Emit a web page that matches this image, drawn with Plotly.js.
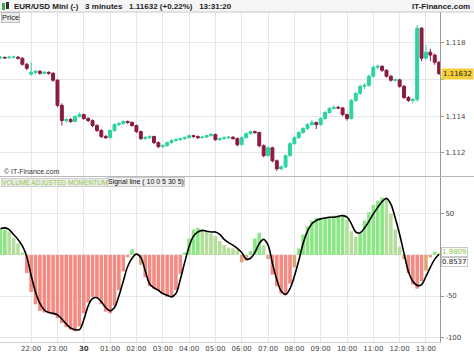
<!DOCTYPE html>
<html><head><meta charset="utf-8">
<script src="https://cdn.plot.ly/plotly-3.0.1.min.js"></script>
<style>html,body{margin:0;padding:0;background:#fff;overflow:hidden}#chart{width:474px;height:355px}</style>
</head><body><div id="chart"></div>
<script>
// ---- data (10-minute bars from 20:50 to 13:30) ----
const startYear = 2019, startMonth = 6, startDay = 29, startHour = 20, startMinute = 50;
const stepMinutes = 10;

const openP = [1.11718,1.11720,1.11718,1.11722,1.11722,1.11716,1.11683,1.11628,1.11639,1.11645,
1.11634,1.11639,1.11634,1.11596,1.11459,1.11376,1.11382,1.11371,1.11398,1.11409,
1.11387,1.11376,1.11349,1.11322,1.11289,1.11283,1.11322,1.11354,1.11360,1.11371,
1.11366,1.11349,1.11316,1.11278,1.11283,1.11289,1.11256,1.11234,1.11239,1.11256,
1.11267,1.11272,1.11278,1.11283,1.11294,1.11289,1.11283,1.11286,1.11294,1.11300,
1.11272,1.11278,1.11283,1.11286,1.11278,1.11245,1.11283,1.11305,1.11316,1.11311,
1.11239,1.11185,1.11228,1.11157,1.11113,1.11124,1.11185,1.11250,1.11283,1.11311,
1.11333,1.11354,1.11365,1.11354,1.11387,1.11420,1.11442,1.11448,1.11445,1.11409,
1.11387,1.11486,1.11524,1.11563,1.11568,1.11618,1.11667,1.11672,1.11650,1.11618,
1.11596,1.11598,1.11563,1.11502,1.11486,1.11490,1.11880,1.11716,1.11749,1.11733,
1.11694];
const highP = [1.11728,1.11726,1.11730,1.11729,1.11727,1.11720,1.11690,1.11694,1.11652,1.11650,
1.11646,1.11644,1.11640,1.11602,1.11470,1.11392,1.11390,1.11405,1.11420,1.11414,
1.11395,1.11382,1.11356,1.11330,1.11298,1.11330,1.11362,1.11368,1.11378,1.11376,
1.11372,1.11354,1.11322,1.11292,1.11296,1.11294,1.11262,1.11248,1.11262,1.11274,
1.11280,1.11284,1.11290,1.11300,1.11299,1.11295,1.11292,1.11300,1.11308,1.11305,
1.11284,1.11290,1.11292,1.11290,1.11284,1.11290,1.11312,1.11322,1.11322,1.11316,
1.11246,1.11236,1.11234,1.11164,1.11132,1.11192,1.11258,1.11290,1.11318,1.11340,
1.11362,1.11380,1.11372,1.11395,1.11428,1.11450,1.11460,1.11456,1.11450,1.11414,
1.11494,1.11532,1.11572,1.11580,1.11626,1.11676,1.11682,1.11678,1.11656,1.11624,
1.11606,1.11604,1.11570,1.11510,1.11500,1.11897,1.11885,1.11790,1.11768,1.11742,
1.11700];
const lowP = [1.11712,1.11712,1.11714,1.11715,1.11708,1.11676,1.11652,1.11622,1.11628,1.11626,
1.11628,1.11626,1.11588,1.11450,1.11349,1.11364,1.11362,1.11366,1.11392,1.11380,
1.11368,1.11340,1.11314,1.11280,1.11276,1.11279,1.11316,1.11346,1.11354,1.11358,
1.11342,1.11308,1.11270,1.11272,1.11276,1.11248,1.11226,1.11228,1.11234,1.11250,
1.11262,1.11266,1.11272,1.11278,1.11282,1.11276,1.11278,1.11281,1.11288,1.11266,
1.11266,1.11272,1.11276,1.11272,1.11235,1.11240,1.11278,1.11298,1.11304,1.11230,
1.11176,1.11180,1.11148,1.11102,1.11106,1.11118,1.11180,1.11244,1.11276,1.11304,
1.11326,1.11346,1.11330,1.11348,1.11380,1.11414,1.11436,1.11438,1.11400,1.11376,
1.11382,1.11478,1.11516,1.11548,1.11560,1.11610,1.11656,1.11642,1.11610,1.11588,
1.11588,1.11555,1.11494,1.11478,1.11470,1.11480,1.11700,1.11708,1.11700,1.11680,
1.11625];
const closeP = [1.11720,1.11718,1.11722,1.11722,1.11716,1.11683,1.11661,1.11639,1.11645,1.11634,
1.11639,1.11634,1.11596,1.11459,1.11376,1.11382,1.11371,1.11398,1.11409,1.11387,
1.11376,1.11349,1.11322,1.11289,1.11283,1.11322,1.11354,1.11360,1.11371,1.11366,
1.11349,1.11316,1.11278,1.11283,1.11289,1.11256,1.11234,1.11239,1.11256,1.11267,
1.11272,1.11278,1.11283,1.11294,1.11289,1.11283,1.11286,1.11294,1.11300,1.11272,
1.11278,1.11283,1.11286,1.11278,1.11245,1.11283,1.11305,1.11316,1.11311,1.11239,
1.11185,1.11228,1.11157,1.11113,1.11124,1.11185,1.11250,1.11283,1.11311,1.11333,
1.11354,1.11365,1.11354,1.11387,1.11420,1.11442,1.11448,1.11445,1.11409,1.11387,
1.11486,1.11524,1.11563,1.11568,1.11618,1.11667,1.11672,1.11650,1.11618,1.11596,
1.11598,1.11563,1.11502,1.11486,1.11490,1.11880,1.11716,1.11749,1.11733,1.11694,
1.11632];

const momentum = [31,31,29,21,14,3,-22,-45,-60,-68,
-70,-71,-73,-77,-83,-88,-91,-93,-87,-71,
-58,-51,-52,-60,-69,-71,-62,-43,-20,-3,
7,2,-12,-27,-38,-41,-43,-47,-51,-51,
-43,-23,3,20,31,33,30,29,26,23,
17,12,9,8,6,-9,-7,5,20,27,
12,-5,-24,-38,-47,-49,-35,-15,8,25,
35,42,45,45,45,47,48,48,48,43,
29,22,27,42,52,61,66,70,68,50,
31,10,-5,-22,-36,-41,-32,-19,-3,4,
1.9809];
const signal = [32,33,31,25,19,11,-2,-25,-45,-59,
-67,-70,-71,-73,-78,-84,-89,-91,-91,-79,
-62,-53,-52,-57,-64,-68,-64,-50,-32,-14,
-4,1,-3,-19,-35,-40,-43,-47,-49,-51,
-47,-30,-9,10,23,28,30,29,28,28,
25,19,15,12,8,3,-5,-4,3,14,
19,12,-10,-30,-44,-48,-41,-26,-7,14,
29,38,42,44,45,46,46,47,48,46,
38,28,27,33,41,50,58,65,69,62,
45,25,2,-20,-32,-37,-36,-26,-15,-5,
0.8537];

const tickTimes = ['2019-07-29 22:00','2019-07-29 23:00','2019-07-30 00:00','2019-07-30 01:00',
'2019-07-30 02:00','2019-07-30 03:00','2019-07-30 04:00','2019-07-30 05:00','2019-07-30 06:00',
'2019-07-30 07:00','2019-07-30 08:00','2019-07-30 09:00','2019-07-30 10:00','2019-07-30 11:00',
'2019-07-30 12:00','2019-07-30 13:00'];
const tickLabels = ['22:00','23:00','<b>30</b>','01:00','02:00','03:00','04:00','05:00','06:00',
'07:00','08:00','09:00','10:00','11:00','12:00','13:00'];
// 1.116 and 0 are hidden behind the last-value labels in the reference
const priceTicks = [1.112,1.114,1.116,1.118];
const priceTickLabels = ['1.112','1.114','','1.118'];
const momTicks = [-100,-50,0,50];
const momTickLabels = ['-100','-50','','50'];

const headerText = 'EUR/USD Mini (-)   3 minutes   1.11632 (+0.22%)   13:31:20';

// ---- build ----
function pad(n){return (n<10?'0':'')+n;}
const times = closeP.map((_, i) => {
  const d = new Date(startYear, startMonth, startDay, startHour, startMinute + i*stepMinutes);
  return d.getFullYear()+'-'+pad(d.getMonth()+1)+'-'+pad(d.getDate())+' '+pad(d.getHours())+':'+pad(d.getMinutes());
});

const barColors = momentum.map((v, i) => {
  const prev = i ? momentum[i-1] : v;
  if (v >= 0) return v >= prev ? '#8be684' : '#b5de9c';
  return v > -20 ? '#dea57d' : '#f38b83';
});

const FONT = 'DejaVu Sans, Verdana, sans-serif';
const LFONT = 'Liberation Sans, Arial, sans-serif';
const W = 474, H = 355, PL = 0, PR = 440, PT = 12, PB = 342;
const px = x => (x - PL) / (PR - PL);
const py = y => (PB - y) / (PB - PT);

const traces = [
  {type:'candlestick', x: times, open: openP, high: highP, low: lowP, close: closeP,
   xaxis:'x', yaxis:'y', whiskerwidth: 0, hoverinfo:'skip',
   increasing:{line:{color:'#2cd3a3', width:1}, fillcolor:'#2cd3a3'},
   decreasing:{line:{color:'#8b1b40', width:1}, fillcolor:'#8b1b40'}},
  {type:'bar', x: times, y: momentum, xaxis:'x', yaxis:'y2', width: 8.2*60000,
   marker:{color: barColors, line:{width:0}}, hoverinfo:'skip'},
  {type:'scatter', mode:'lines', x: times, y: signal, xaxis:'x', yaxis:'y2',
   line:{color:'#000', width:1.6, shape:'spline'}, hoverinfo:'skip'}
];

const axisFont = {family: FONT, size: 7, color: '#444'};
const layout = {
  width: W, height: H, margin: {l: PL, r: W-PR, t: PT, b: H-PB, pad: 0},
  paper_bgcolor: '#fff', plot_bgcolor: '#fff', showlegend: false,
  font: {family: FONT}, boxgap: 0.05,
  xaxis: {type:'date', anchor:'y2', range:['2019-07-29 20:49','2019-07-30 13:32'],
    tickvals: tickTimes, ticktext: tickLabels, tickfont: axisFont, ticks:'',
    showgrid: true, gridcolor:'#e6e6e6', gridwidth: 1, zeroline: false,
    showline: true, linecolor:'#d0d0d0', rangeslider:{visible:false}, fixedrange:true},
  yaxis: {domain:[(PB-176)/(PB-PT), 1], range:[1.11074, 1.11968], side:'right', anchor:'x',
    tickvals: priceTicks, ticktext: priceTickLabels, tickfont: axisFont,
    ticks:'outside', ticklen: 3, tickcolor:'#999', showline: true, linecolor:'#999',
    showgrid: true, gridcolor:'#e6e6e6', zeroline: false, fixedrange:true},
  yaxis2: {domain:[0, (PB-177)/(PB-PT)], range:[-106, 95], side:'right', anchor:'x',
    tickvals: momTicks, ticktext: momTickLabels, tickfont: axisFont,
    ticks:'outside', ticklen: 3, tickcolor:'#999', showline: true, linecolor:'#999',
    showgrid: true, gridcolor:'#e6e6e6', zeroline: false, fixedrange:true},
  shapes: [
    {type:'rect', xref:'paper', yref:'paper', x0: px(0), x1: px(W), y0: py(12), y1: py(0),
     fillcolor:'#f6f6f6', line:{width:0}, layer:'below'},
    {type:'line', xref:'paper', yref:'paper', x0: px(0), x1: px(W), y0: py(12), y1: py(12),
     line:{color:'#c8c8c8', width:1}},
    {type:'line', xref:'paper', yref:'paper', x0: px(0), x1: px(W), y0: py(176.5), y1: py(176.5),
     line:{color:'#b8b8b8', width:1}},
    {type:'rect', xref:'paper', yref:'paper', x0: px(2), x1: px(5), y0: py(10), y1: py(3),
     fillcolor:'#3cb043', line:{width:0}},
    {type:'rect', xref:'paper', yref:'paper', x0: px(6), x1: px(9), y0: py(9), y1: py(2),
     fillcolor:'#333', line:{width:0}}
  ],
  annotations: [
    {xref:'paper', yref:'paper', x: px(12), y: py(6), xanchor:'left', yanchor:'middle',
     text: headerText, showarrow:false, font:{family: LFONT, size:8, color:'#222', weight:'bold'}},
    {xref:'paper', yref:'paper', x: px(472), y: py(6), xanchor:'right', yanchor:'middle',
     text: 'IT-Finance.com', showarrow:false, font:{family: LFONT, size:8, color:'#222', weight:'bold'}},
    {xref:'paper', yref:'paper', x: px(1), y: py(17.5), xanchor:'left', yanchor:'middle',
     text: 'Price', showarrow:false, bgcolor:'#ececec', bordercolor:'#bdbdbd', borderwidth:1, borderpad:0,
     font:{family: LFONT, size:7.5, color:'#222'}},
    {xref:'paper', yref:'paper', x: px(2), y: py(171), xanchor:'left', yanchor:'middle',
     text: '© IT-Finance.com', showarrow:false, font:{family: LFONT, size:7, color:'#333'}},
    {xref:'paper', yref:'paper', x: px(1), y: py(182), xanchor:'left', yanchor:'middle',
     text: 'VOLUME ADJUSTED MOMENTUM', showarrow:false, bgcolor:'#eeeeee', bordercolor:'#cccccc', borderwidth:1, borderpad:0,
     font:{family: LFONT, size:6.6, color:'#8dc63f'}},
    {xref:'paper', yref:'paper', x: px(107), y: py(182), xanchor:'left', yanchor:'middle',
     text: 'Signal line ( 10 0 5 30 5)', showarrow:false, bgcolor:'#eeeeee', bordercolor:'#cccccc', borderwidth:1, borderpad:0,
     font:{family: LFONT, size:7, color:'#111'}},
    {xref:'paper', yref:'y', x: px(441), y: closeP[closeP.length-1], xanchor:'left', yanchor:'middle',
     text: String(closeP[closeP.length-1].toFixed(5)), showarrow:false, bgcolor:'#f5cf3a', borderpad:1,
     font:{family: FONT, size:7, color:'#222'}},
    {xref:'paper', yref:'y2', x: px(441), y: momentum[momentum.length-1], yshift: 1.5, xanchor:'left', yanchor:'middle',
     text: String(momentum[momentum.length-1].toFixed(4)), showarrow:false, bgcolor:'#fff', bordercolor:'#c8c8c8', borderwidth:1, borderpad:0,
     font:{family: FONT, size:7, color:'#8dc63f'}},
    {xref:'paper', yref:'y2', x: px(441), y: signal[signal.length-1], yshift: -7.5, xanchor:'left', yanchor:'middle',
     text: String(signal[signal.length-1].toFixed(4)), showarrow:false, bgcolor:'#fff', bordercolor:'#c8c8c8', borderwidth:1, borderpad:0,
     font:{family: FONT, size:7, color:'#222'}}
  ]
};

Plotly.newPlot('chart', traces, layout, {staticPlot:true, displayModeBar:false});
</script>
</body></html>
